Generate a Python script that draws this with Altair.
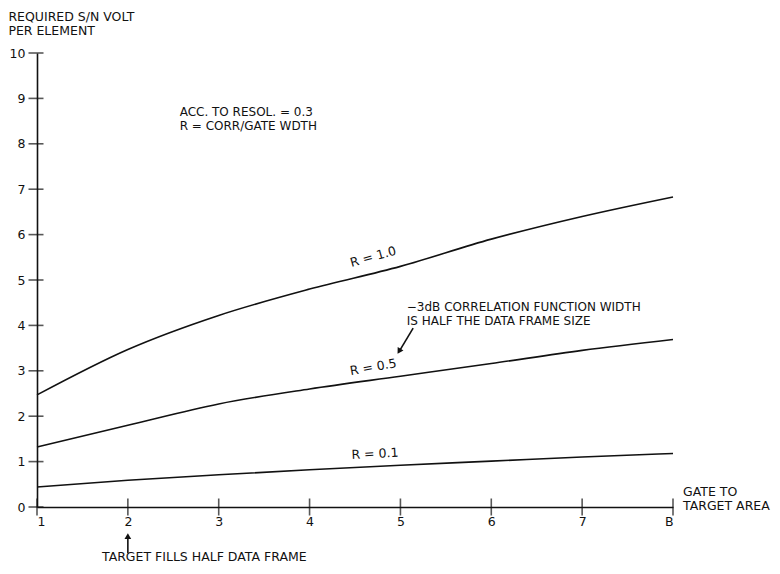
import altair as alt
import pandas as pd

# ---- data ----
gate_ratio = [1, 2, 3, 4, 5, 6, 7, 8]
sn_r10 = [2.47, 3.47, 4.22, 4.80, 5.30, 5.90, 6.40, 6.83]
sn_r05 = [1.32, 1.80, 2.27, 2.60, 2.88, 3.16, 3.45, 3.69]
sn_r01 = [0.44, 0.59, 0.71, 0.82, 0.92, 1.01, 1.10, 1.18]
series_names = ["R = 1.0", "R = 0.5", "R = 0.1"]

x_tick_values = [1, 2, 3, 4, 5, 6, 7, 8]
x_tick_labels = ["1", "2", "3", "4", "5", "6", "7", "B"]
y_tick_values = [0, 1, 2, 3, 4, 5, 6, 7, 8, 9, 10]

INK = "#111111"
FONT = "DejaVu Sans"

rows = []
for name, vals in zip(series_names, [sn_r10, sn_r05, sn_r01]):
    for g, v in zip(gate_ratio, vals):
        rows.append({"gate": g, "sn": v, "series": name})
curves = pd.DataFrame(rows)

label_expr = "''"
for v, lab in zip(reversed(x_tick_values), reversed(x_tick_labels)):
    label_expr = f"datum.value == {v} ? '{lab}' : ({label_expr})"

xs = alt.Scale(domain=[1, 8], nice=False, zero=False)
ys = alt.Scale(domain=[0, 10], nice=False, zero=False)

X_AXIS = alt.Axis(
    values=x_tick_values, labelExpr=label_expr, title=None, grid=False,
    ticks=False, domainColor=INK, domainWidth=1.6, labelPadding=8,
    labelFont=FONT, labelFontSize=12.5, labelColor=INK)
Y_AXIS = alt.Axis(
    values=y_tick_values, title=None, grid=False, ticks=False,
    domainColor=INK, domainWidth=1.6, labelPadding=12,
    labelFont=FONT, labelFontSize=12.5, labelColor=INK)


def X():
    return alt.X("gate:Q", scale=xs, axis=X_AXIS)


def Y():
    return alt.Y("sn:Q", scale=ys, axis=Y_AXIS)


lines = alt.Chart(curves).mark_line(
    color=INK, strokeWidth=1.6, interpolate="monotone", clip=False
).encode(x=X(), y=Y(), detail="series:N")

# tick marks crossing the axes
yt = pd.DataFrame({"gate": [1] * len(y_tick_values), "sn": y_tick_values})
xt = pd.DataFrame({"gate": x_tick_values, "sn": [0] * len(x_tick_values)})
y_ticks = alt.Chart(yt).mark_tick(orient="horizontal", size=15, thickness=1.6,
                                  color=INK, xOffset=-1).encode(x=X(), y=Y())
x_ticks = alt.Chart(xt).mark_tick(orient="vertical", size=17, thickness=1.6,
                                  color=INK).encode(x=X(), y=Y())


def text_layer(df, size=12.5, angle=0, align="left", baseline="alphabetic"):
    kw = dict(font=FONT, fontSize=size, color=INK, align=align, baseline=baseline)
    if angle:
        kw["angle"] = angle
    return alt.Chart(df).mark_text(**kw).encode(x=X(), y=Y(), text="t:N")


ylab = pd.DataFrame({"gate": [0.685, 0.685], "sn": [10.70, 10.39],
                     "t": ["REQUIRED S/N VOLT", "PER ELEMENT"]})
acc = pd.DataFrame({"gate": [2.57, 2.57], "sn": [8.61, 8.30],
                    "t": ["ACC. TO RESOL. = 0.3", "R = CORR/GATE WDTH"]})
note = pd.DataFrame({"gate": [5.07, 5.07], "sn": [4.32, 4.00],
                     "t": ["\u22123dB CORRELATION FUNCTION WIDTH", "IS HALF THE DATA FRAME SIZE"]})
xlab = pd.DataFrame({"gate": [8.11, 8.11], "sn": [0.25, -0.07],
                     "t": ["GATE TO", "TARGET AREA"]})
tgt = pd.DataFrame({"gate": [1.715], "sn": [-1.20], "t": ["TARGET FILLS HALF DATA FRAME"]})

r10 = pd.DataFrame({"gate": [4.70], "sn": [5.51], "t": ["R = 1.0"]})
r05 = pd.DataFrame({"gate": [4.70], "sn": [3.08], "t": ["R = 0.5"]})
r01 = pd.DataFrame({"gate": [4.72], "sn": [1.17], "t": ["R = 0.1"]})

arrows = pd.DataFrame({"gate": [5.14, 2.0], "sn": [3.94, -1.02],
                       "gate2": [4.99, 2.0], "sn2": [3.44, -0.66]})
arrow_lines = alt.Chart(arrows).mark_rule(color=INK, strokeWidth=1.6).encode(
    x=X(), y=Y(), x2="gate2:Q", y2="sn2:Q")
head1 = alt.Chart(pd.DataFrame({"gate": [4.985], "sn": [3.43]})).mark_point(
    shape="triangle-up", filled=True, size=45, angle=211, color=INK, opacity=1
).encode(x=X(), y=Y())
head2 = alt.Chart(pd.DataFrame({"gate": [2.0], "sn": [-0.64]})).mark_point(
    shape="triangle-up", filled=True, size=45, color=INK, opacity=1
).encode(x=X(), y=Y())

chart = alt.layer(
    lines, y_ticks, x_ticks,
    text_layer(ylab), text_layer(acc, size=12), text_layer(note, size=12),
    text_layer(xlab, size=12.5), text_layer(tgt),
    text_layer(r10, angle=344.5, align="center", baseline="middle"),
    text_layer(r05, angle=350, align="center", baseline="middle"),
    text_layer(r01, angle=357, align="center", baseline="middle"),
    arrow_lines, head1, head2,
).properties(
    width=636, height=454,
    background="white",
    autosize=alt.AutoSizeParams(type="none"),
    padding={"left": 29, "top": 45, "right": 99, "bottom": 58},
).configure_view(stroke=None)

chart.save("out.html", embed_options={"renderer": "svg", "actions": False})
